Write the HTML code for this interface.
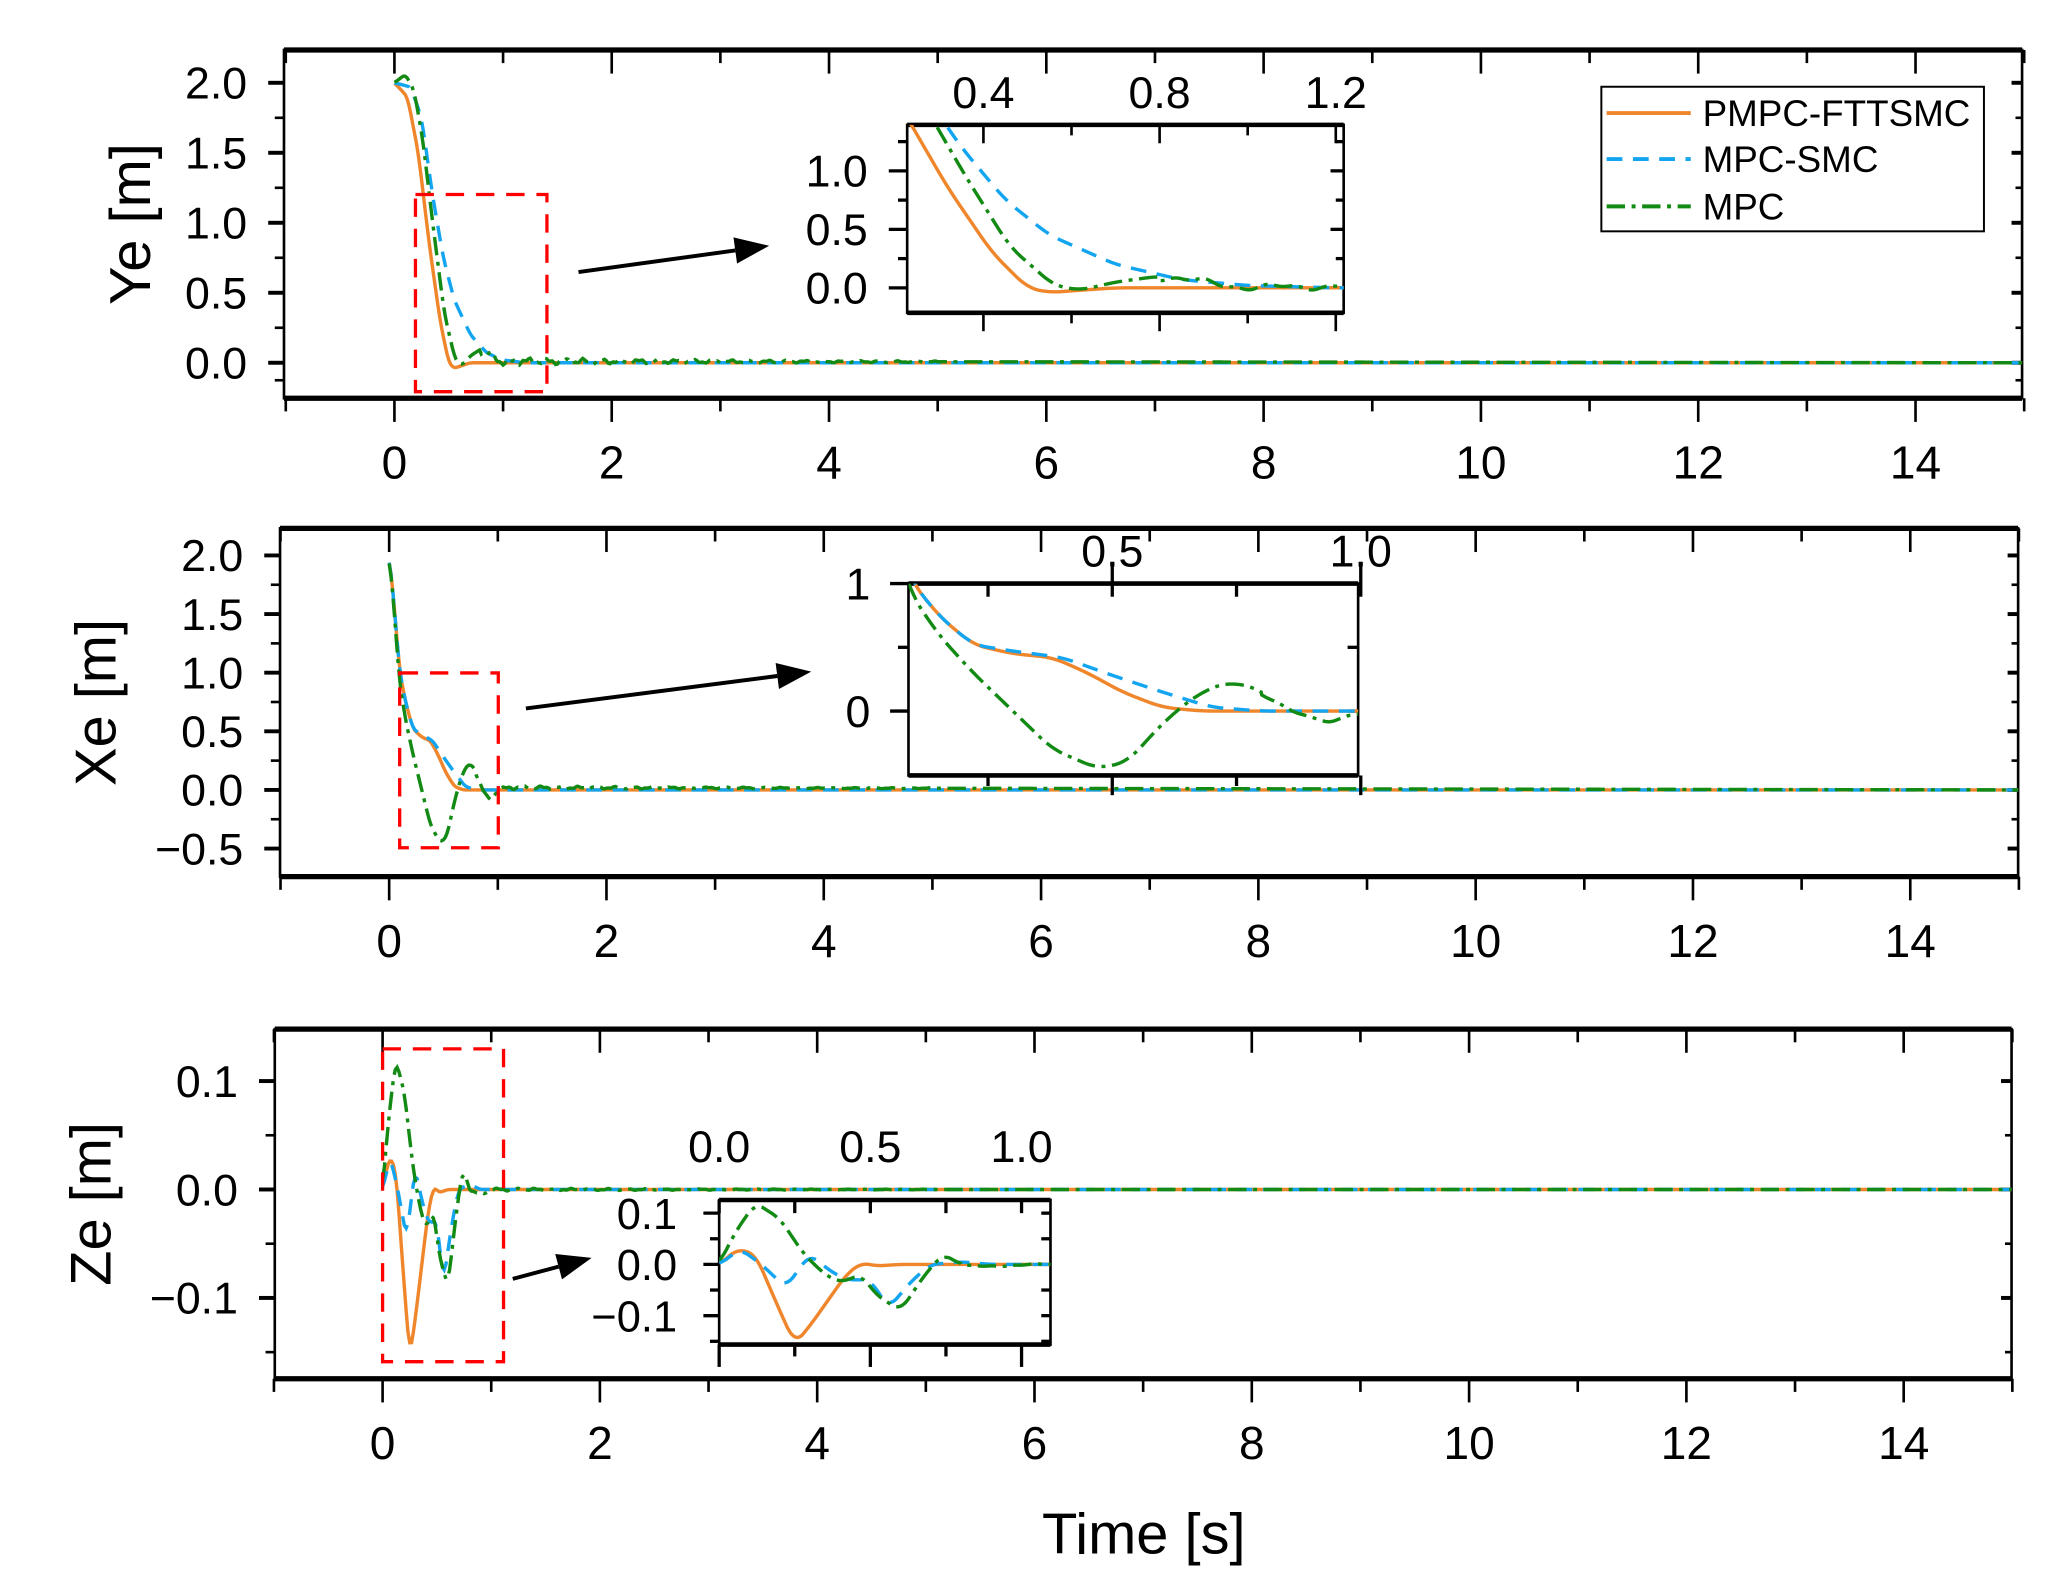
<!DOCTYPE html>
<html><head><meta charset="utf-8"><style>
html,body{margin:0;padding:0;background:#fff;}
svg{display:block;}
text{font-family:"Liberation Sans",Arial,sans-serif;fill:#000;}
</style></head><body>
<svg id="s" xmlns="http://www.w3.org/2000/svg" width="2051" height="1593" viewBox="0 0 1560 1212" preserveAspectRatio="none"></svg>
<script>
const S=document.getElementById('s');let h='';
const OR='#f0862c',BL='#14a5f0',GR='#138a13';
function lin(pts,t){if(t<=pts[0][0])return pts[0][1];for(let i=1;i<pts.length;i++){if(t<=pts[i][0]){const a=pts[i-1],b=pts[i];return a[1]+(b[1]-a[1])*(t-a[0])/(b[0]-a[0]);}}return pts[pts.length-1][1];}
function sm(pts,t){let s=0,n=0;for(let k=-3;k<=3;k++){s+=lin(pts,t+k*0.008);n++;}return s/n;}
function noise(t,amp){if(t<0.8||t>5)return 0;return amp*(Math.sin(t*37)+0.6*Math.sin(t*91+1))*Math.exp(-(t-0.8)*0.4);}
function curve(f,t0,t1,X,Y,col,dash,clip){let d='';const N=900;for(let i=0;i<=N;i++){const t=t0+(t1-t0)*i/N;d+=(i?'L':'M')+X(t).toFixed(2)+','+Y(f(t)).toFixed(2);}
 h+=`<path d="${d}" fill="none" stroke="${col}" stroke-width="2.6" ${dash?'stroke-dasharray="'+dash+'"':''} ${clip?'clip-path="url(#'+clip+')"':''}/>`;}
function L(x1,y1,x2,y2,w){h+=`<line x1="${x1}" y1="${y1}" x2="${x2}" y2="${y2}" stroke="#000" stroke-width="${w||2}"/>`;}
function T(x,y,s,anc,fs){h+=`<text x="${x}" y="${y}" font-size="${fs||30}" text-anchor="${anc||'middle'}">${s}</text>`;}
function mainPanel(o){const X=t=>o.x0+82.64*t,Y=v=>o.y0-o.yu*v;
 h+=`<clipPath id="${o.id}"><rect x="${o.L}" y="${o.T}" width="${o.R-o.L}" height="${o.B-o.T}"/></clipPath>`;
 h+=`<rect x="${o.L}" y="${o.T}" width="${o.R-o.L}" height="${o.B-o.T}" fill="none" stroke="#000" stroke-width="2"/>`;
 L(o.L,o.T,o.R,o.T,4);L(o.L,o.B,o.R,o.B,4);
 for(let t=-1;t<=15;t++){const x=X(t);if(x<o.L-2||x>o.R+2)continue;const maj=t%2==0;
  L(x,o.B,x,o.B+(maj?18:10),2);L(x,o.T,x,o.T+(maj?18:10),2);
  if(maj&&t>=0)T(x,o.B+61,t,'middle',35);}
 for(const [v,lab] of o.yt){const y=Y(v);if(lab!==null){L(o.L-12,y,o.L,y,3);L(o.R-8,y,o.R,y,3);T(o.L-28,y+12,lab,'end',34);}else{L(o.L-7,y,o.L,y,2);L(o.R-5,y,o.R,y,2);}}
 h+=`<text transform="translate(${o.lx},${(o.T+o.B)/2}) rotate(-90)" font-size="44" text-anchor="middle">${o.lab}</text>`;
 return {X,Y};}
function inset(o){const X=t=>o.xa+o.xs*(t-o.ta),Y=v=>o.ya-o.ys*v;
 h+=`<clipPath id="${o.id}"><rect x="${o.L}" y="${o.T}" width="${o.R-o.L}" height="${o.B-o.T}"/></clipPath>`;
 h+=`<rect x="${o.L}" y="${o.T}" width="${o.R-o.L}" height="${o.B-o.T}" fill="#fff" stroke="#000" stroke-width="2"/>`;
 L(o.L,o.T,o.R,o.T,3.5);L(o.L,o.B,o.R,o.B,3.5);
 return {X,Y};}
const red=(x,y,w,hh)=>{h+=`<rect x="${x}" y="${y}" width="${w}" height="${hh}" fill="none" stroke="#f00" stroke-width="2.5" stroke-dasharray="14,9"/>`;};
function arrow(x1,y1,x2,y2){const a=Math.atan2(y2-y1,x2-x1),l=26,w=10;const bx=x2-l*Math.cos(a),by=y2-l*Math.sin(a);
 L(x1,y1,bx,by,3);h+=`<polygon points="${x2},${y2} ${bx-w*Math.sin(a)},${by+w*Math.cos(a)} ${bx+w*Math.sin(a)},${by-w*Math.cos(a)}" fill="#000"/>`;}
const DB='12,8',DG='14,5,3,5';
// ===== Panel 1 =====
const yO=[[0,2],[0.12,1.9],[0.22,1.5],[0.32,0.85],[0.42,0.3],[0.5,0.0],[0.55,-0.04],[0.62,-0.02],[0.7,0],[15,0]];
const yB=[[0,2],[0.15,1.97],[0.25,1.75],[0.35,1.2],[0.45,0.75],[0.55,0.45],[0.7,0.2],[0.85,0.07],[1.0,0.02],[1.2,0],[15,0]];
const yG=[[0,2],[0.1,2.06],[0.18,1.95],[0.26,1.6],[0.36,0.95],[0.46,0.35],[0.56,0.02],[0.62,-0.02],[0.7,0.05],[0.8,0.1],[0.9,0.05],[1.0,0.0],[1.1,0.01],[15,0]];
const fO1=t=>sm(yO,t),fB1=t=>sm(yB,t),fG1=t=>sm(yG,t)+noise(t,0.02);
let p=mainPanel({id:'c1',L:216,R:1538,T:38,B:303,x0:300,y0:276,yu:106.5,lx:114,lab:'Ye [m]',
 yt:[[0,'0.0'],[0.25,null],[0.5,'0.5'],[0.75,null],[1,'1.0'],[1.25,null],[1.5,'1.5'],[1.75,null],[2,'2.0'],[-0.125,null]]});
curve(fO1,0,15,p.X,p.Y,OR,null,'c1');curve(fB1,0,15,p.X,p.Y,BL,DB,'c1');curve(fG1,0,15,p.X,p.Y,GR,DG,'c1');
red(316,148,100,150);arrow(440,207,585,187);
let q=inset({id:'i1',L:690,R:1022,T:95,B:238,xa:748,ta:0.4,xs:335,ya:219,ys:89});
for(let t=0.4;t<=1.21;t+=0.2){const x=q.X(t);const maj=Math.abs(((t+1e-6)%0.4))<0.01;L(x,238,x,238+(maj?14:8),2);L(x,95,x,95+(maj?14:8),2);}
[[0.4,'0.4'],[0.8,'0.8'],[1.2,'1.2']].forEach(([t,s])=>T(q.X(t),82,s,'middle',34));
for(let v=0;v<=1.3;v+=0.25){const y=q.Y(v);const lab=Math.abs(v%0.5)<0.01?v.toFixed(1):null;L(690-(lab?14:7),y,690,y,2.5);L(1022-(lab?10:6),y,1022,y,2.5);if(lab)T(660,y+12,lab,'end',34);}
curve(fO1,0.2,1.22,q.X,q.Y,OR,null,'i1');curve(fB1,0.2,1.22,q.X,q.Y,BL,DB,'i1');curve(fG1,0.2,1.22,q.X,q.Y,GR,DG,'i1');
// legend
h+=`<rect x="1218" y="66" width="291" height="110" fill="#fff" stroke="#000" stroke-width="1.5"/>`;
[[86,OR,null,'PMPC-FTTSMC'],[121,BL,DB,'MPC-SMC'],[157,GR,DG,'MPC']].forEach(([y,c,d,s])=>{h+=`<line x1="1222" y1="${y}" x2="1286" y2="${y}" stroke="${c}" stroke-width="3" ${d?'stroke-dasharray="'+d+'"':''}/>`;T(1295,y+10,s,'start',28);});
// ===== Panel 2 =====
const xO=[[0,2],[0.05,1.55],[0.09,1.05],[0.15,0.75],[0.22,0.52],[0.3,0.45],[0.38,0.42],[0.45,0.3],[0.52,0.15],[0.6,0.03],[0.68,0],[15,0]];
const xB=[[0,2],[0.05,1.55],[0.09,1.05],[0.15,0.75],[0.22,0.52],[0.3,0.47],[0.4,0.42],[0.5,0.28],[0.6,0.15],[0.7,0.03],[0.8,0],[15,0]];
const xG=[[0,2],[0.05,1.5],[0.09,0.95],[0.15,0.6],[0.22,0.3],[0.3,0.0],[0.38,-0.3],[0.47,-0.45],[0.53,-0.4],[0.6,-0.1],[0.66,0.1],[0.72,0.22],[0.78,0.2],[0.85,0.02],[0.92,-0.1],[1.0,0.0],[1.1,0.02],[15,0]];
const fO2=t=>sm(xO,t),fB2=t=>sm(xB,t),fG2=t=>sm(xG,t)+noise(t,0.012);
p=mainPanel({id:'c2',L:213,R:1535,T:402,B:667,x0:296,y0:601,yu:89.2,lx:88,lab:'Xe [m]',
 yt:[[-0.5,'\u22120.5'],[-0.25,null],[0,'0.0'],[0.25,null],[0.5,'0.5'],[0.75,null],[1,'1.0'],[1.25,null],[1.5,'1.5'],[1.75,null],[2,'2.0']]});
curve(fO2,0,15,p.X,p.Y,OR,null,'c2');curve(fB2,0,15,p.X,p.Y,BL,DB,'c2');curve(fG2,0,15,p.X,p.Y,GR,DG,'c2');
red(304,512,75,133);arrow(400,539,617,511);
q=inset({id:'i2',L:691,R:1033,T:444,B:590,xa:846,ta:0.5,xs:378,ya:541,ys:97});
[0.25,0.5,0.75,1.0].forEach(t=>{const x=q.X(t);const maj=(t==0.5||t==1.0);L(x,590,x,maj?605:598,2.5);L(x,maj?430:444,x,454,2.5);});
T(846,431,'0.5','middle',34);T(1035,431,'1.0','middle',34);
[[1,'1'],[0.5,null],[0,'0']].forEach(([v,s])=>{const y=q.Y(v);L(691-(s?14:8),y,691,y,2.5);L(1033-8,y,1033,y,2.5);if(s)T(662,y+12,s,'end',34);});
curve(fO2,0.09,1.0,q.X,q.Y,OR,null,'i2');curve(fB2,0.09,1.0,q.X,q.Y,BL,DB,'i2');curve(fG2,0.09,1.0,q.X,q.Y,GR,DG,'i2');
// ===== Panel 3 =====
const zO=[[0,0],[0.06,0.03],[0.12,0.02],[0.2,-0.09],[0.25,-0.155],[0.3,-0.12],[0.36,-0.07],[0.42,-0.02],[0.47,0.003],[0.52,-0.003],[0.6,0],[15,0]];
const zB=[[0,0],[0.07,0.03],[0.14,0.0],[0.22,-0.045],[0.3,0.02],[0.36,-0.01],[0.42,-0.03],[0.5,-0.03],[0.56,-0.085],[0.64,-0.03],[0.7,0.0],[0.8,0.005],[0.9,0],[15,0]];
const zG=[[0,0],[0.05,0.06],[0.12,0.12],[0.2,0.09],[0.28,0.02],[0.35,-0.02],[0.4,-0.035],[0.47,-0.02],[0.52,-0.06],[0.6,-0.09],[0.68,-0.02],[0.74,0.02],[0.8,0.0],[0.9,-0.005],[1.0,0],[15,0]];
const fO3=t=>sm(zO,t),fB3=t=>sm(zB,t),fG3=t=>sm(zG,t)+noise(t,0.001);
p=mainPanel({id:'c3',L:209,R:1530,T:783,B:1049,x0:291,y0:905,yu:825,lx:84,lab:'Ze [m]',
 yt:[[-0.15,null],[-0.1,'\u22120.1'],[-0.05,null],[0,'0.0'],[0.05,null],[0.1,'0.1']]});
curve(fO3,0,15,p.X,p.Y,OR,null,'c3');curve(fB3,0,15,p.X,p.Y,BL,DB,'c3');curve(fG3,0,15,p.X,p.Y,GR,DG,'c3');
red(291,798,92,238);arrow(390,973,450,957);
q=inset({id:'i3',L:547,R:799,T:913,B:1023,xa:547,ta:0,xs:230,ya:962,ys:390});
[0,0.25,0.5,0.75,1.0].forEach(t=>{const x=q.X(t);const maj=(t*2)%1==0;L(x,1023,x,maj?1040:1032,2.5);L(x,913,x,923,2.5);});
[[0,'0.0'],[0.5,'0.5'],[1,'1.0']].forEach(([t,s])=>T(q.X(t),884,s,'middle',34));
[[0.1,'0.1'],[0.05,null],[0,'0.0'],[-0.05,null],[-0.1,'\u22120.1'],[-0.15,null]].forEach(([v,s])=>{const y=q.Y(v);L(547-(s?12:7),y,547,y,2.5);L(799-7,y,799,y,2.5);if(s)T(515,y+12,s,'end',33);});
curve(fO3,0,1.1,q.X,q.Y,OR,null,'i3');curve(fB3,0,1.1,q.X,q.Y,BL,DB,'i3');curve(fG3,0,1.1,q.X,q.Y,GR,DG,'i3');
T(870,1182,'Time [s]','middle',44);
S.innerHTML=h;
</script>
</body></html>
